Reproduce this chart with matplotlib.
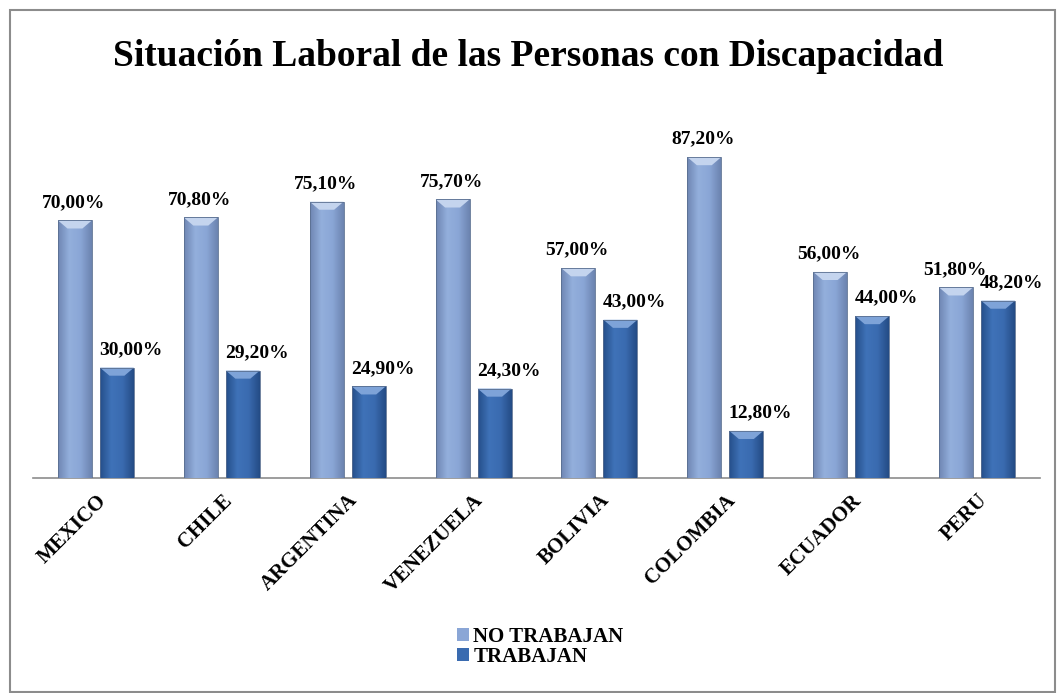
import numpy as np
import matplotlib.pyplot as plt
from matplotlib.patches import Rectangle, Polygon
from matplotlib.colors import LinearSegmentedColormap

paises = ["MEXICO", "CHILE", "ARGENTINA", "VENEZUELA", "BOLIVIA", "COLOMBIA", "ECUADOR", "PERU"]
no_trabajan = [70.0, 70.8, 75.1, 75.7, 57.0, 87.2, 56.0, 51.8]
trabajan = [30.0, 29.2, 24.9, 24.3, 43.0, 12.8, 44.0, 48.2]
series = ["NO TRABAJAN", "TRABAJAN"]

serif = ["Liberation Serif", "DejaVu Serif"]

fig = plt.figure(figsize=(10.57, 6.93), dpi=100)
fig.patches.append(Rectangle((10 / 1057, 0.002), 1045 / 1057, 1 - 10 / 693 - 0.002,
                             transform=fig.transFigure, fill=False, ec="#8c8c8c", lw=1.5))

ax = fig.add_axes([33 / 1057, 1 - 478 / 693, 1007 / 1057, 368 / 693])
x = np.arange(len(paises))
w = 0.27
off = 0.167

# gradient colormaps (edge -> centre -> edge)
cm_light = LinearSegmentedColormap.from_list("l", ["#6f86b3", "#93afdc", "#8aa6d6", "#6c84b0"])
cm_dark = LinearSegmentedColormap.from_list("d", ["#254f8a", "#3f72b8", "#3a6bb0", "#244c86"])
grad = np.linspace(0, 1, 64).reshape(1, -1)

b1 = ax.bar(x - off, no_trabajan, w, color="#8aa6d6", zorder=2)
b2 = ax.bar(x + off, trabajan, w, color="#3a6bb0", zorder=2)

for bars, cm, top in ((b1, cm_light, "#c4d4ee"), (b2, cm_dark, "#7ea3d8")):
    for b in bars:
        x0, bw, h = b.get_x(), b.get_width(), b.get_height()
        im = ax.imshow(grad, cmap=cm, extent=(x0, x0 + bw, 0, h), aspect="auto", zorder=3)
        im.set_clip_path(b)
        # bevel at the top
        ax.add_patch(Polygon([(x0, h), (x0 + bw, h), (x0 + bw * 0.72, h - 2.2), (x0 + bw * 0.28, h - 2.2)],
                             closed=True, fc=top, ec="none", zorder=4))
        ax.add_patch(Rectangle((x0, 0), bw, h, fill=False, ec="#5a6f90", lw=0.6, zorder=5))

for bars, vals, dx in ((b1, no_trabajan, -0.01), (b2, trabajan, 0.11)):
    for b, v in zip(bars, vals):
        ax.text(b.get_x() + b.get_width() / 2 + dx, v + 2.6, f"{v:.2f}%".replace(".", ","),
                ha="center", va="bottom", fontsize=14, fontweight="bold", family=serif)

ax.set_xlim(-0.5, len(paises) - 0.5)
ax.set_ylim(0, 100)
ax.set_yticks([])
for s in ["top", "right", "left"]:
    ax.spines[s].set_visible(False)
ax.spines["bottom"].set_color("#8c8c8c")
ax.spines["bottom"].set_linewidth(1.2)
ax.set_xticks(x)
ax.set_xticklabels(paises, rotation=45, ha="right", rotation_mode="anchor",
                   fontsize=15, fontweight="bold", family=serif)
ax.tick_params(axis="x", length=0, pad=9)

fig.text(0.5, 1 - 56 / 693, "Situación Laboral de las Personas con Discapacidad",
         ha="center", va="center", fontsize=27, fontweight="bold", family=serif)

leg = fig.legend([b1, b2], series, loc="center", bbox_to_anchor=(540 / 1057, 1 - 647 / 693),
                 ncol=1, frameon=False, handlelength=0.6, handleheight=0.6, handletextpad=0.2,
                 labelspacing=0.0, prop={"family": serif, "weight": "bold", "size": 15})

fig.savefig("out.png", dpi=100)
